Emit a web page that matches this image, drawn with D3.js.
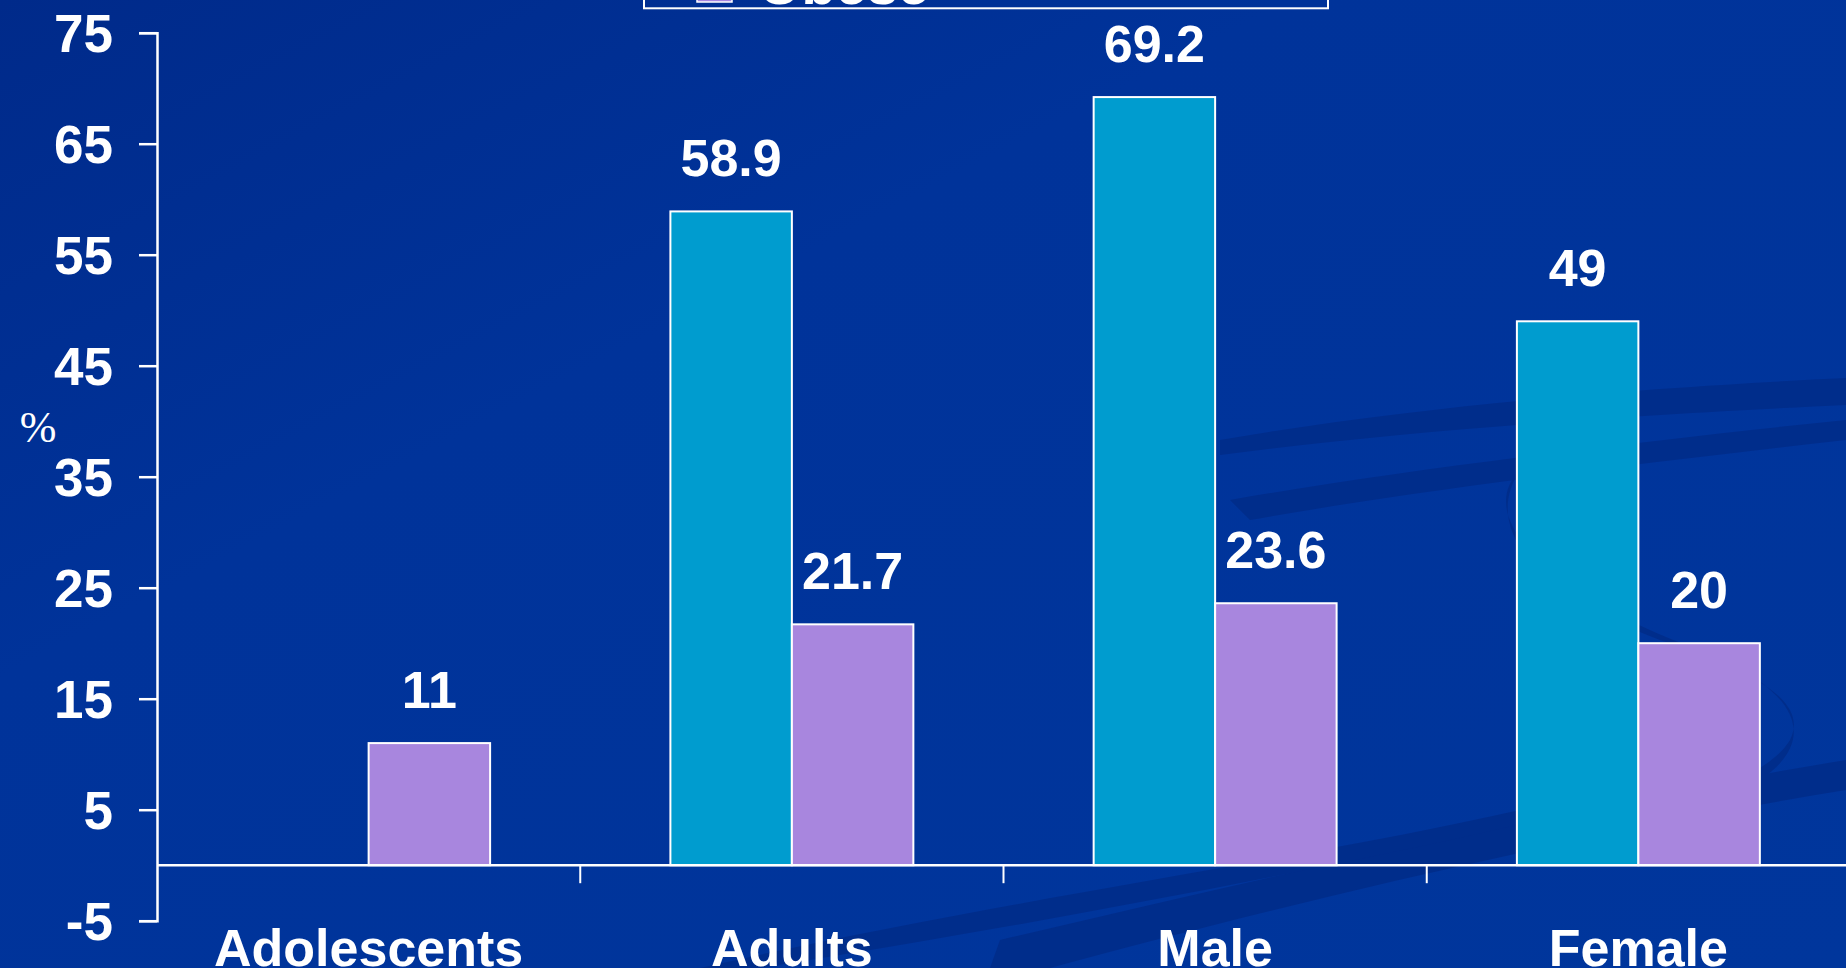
<!DOCTYPE html>
<html>
<head>
<meta charset="utf-8">
<script src="https://cdn.jsdelivr.net/npm/d3@7/dist/d3.min.js"></script>
<style>
  html, body { margin: 0; padding: 0; background: #003399; overflow: hidden; }
  svg { display: block; }
</style>
</head>
<body>
<svg id="chart" width="1846" height="968"></svg>
<script>
// ---- data ----
const categories = ["Adolescents", "Adults", "Male", "Female"];
const seriesNames = ["Overweight", "Obese"];
const overweight = [null, 58.9, 69.2, 49];
const obese = [11, 21.7, 23.6, 20];
const yTicks = [-5, 5, 15, 25, 35, 45, 55, 65, 75];
const legendLabels = ["Obese"];

const W = 1846, H = 968;
const svg = d3.select("#chart");
const font = "'Liberation Sans', Arial, sans-serif";

// ---- background ----
const defs = svg.append("defs");
const grad = defs.append("linearGradient").attr("id", "bg")
  .attr("x1", "0%").attr("y1", "0%").attr("x2", "100%").attr("y2", "100%");
grad.append("stop").attr("offset", "0%").attr("stop-color", "#002a8a");
grad.append("stop").attr("offset", "35%").attr("stop-color", "#00339a");
grad.append("stop").attr("offset", "100%").attr("stop-color", "#00369c");
svg.append("rect").attr("width", W).attr("height", H).attr("fill", "url(#bg)");

const deco = svg.append("g").attr("fill", "#002b86").attr("opacity", 0.75);
deco.append("path").attr("d", "M1220,440 C1450,400 1700,385 1846,378 L1846,405 C1700,412 1450,425 1220,455 Z");
deco.append("path").attr("d", "M1230,500 C1400,470 1650,440 1846,420 L1846,440 C1650,462 1420,490 1250,520 Z");
deco.append("path").attr("d", "M1520,470 C1470,520 1560,600 1700,650 C1800,690 1820,740 1760,780 C1700,810 1600,825 1500,840 C1640,810 1760,790 1790,740 C1810,700 1750,670 1660,640 C1540,595 1480,530 1520,470 Z");
deco.append("path").attr("d", "M1000,940 C1300,870 1600,800 1846,760 L1846,790 C1600,830 1300,900 1050,968 L990,968 Z");
deco.append("path").attr("d", "M700,968 C1000,900 1300,860 1520,810 L1530,822 C1300,875 1000,930 760,968 Z");

// ---- scales ----
const x0 = d3.scaleBand().domain(categories).range([157, 1850]).paddingInner(0).paddingOuter(0);
const x1 = d3.scaleBand().domain(seriesNames).range([0, x0.bandwidth()]).paddingInner(0).paddingOuter(0.742);
const y = d3.scaleLinear().domain([-5, 75]).range([920.7, 32.7]);
const color = d3.scaleOrdinal().domain(seriesNames).range(["#009ccf", "#a886de"]);

// ---- bars ----
const rows = categories.map((c, i) => ({ cat: c, vals: [
  { s: "Overweight", v: overweight[i] },
  { s: "Obese", v: obese[i] }
].filter(d => d.v !== null) }));

const groups = svg.append("g").selectAll("g").data(rows).join("g")
  .attr("transform", d => `translate(${x0(d.cat)},0)`);

groups.selectAll("rect").data(d => d.vals).join("rect")
  .attr("x", d => x1(d.s))
  .attr("y", d => y(d.v))
  .attr("width", x1.bandwidth())
  .attr("height", d => y(0) - y(d.v))
  .attr("fill", d => color(d.s))
  .attr("stroke", "#ffffff")
  .attr("stroke-width", 2);

groups.selectAll("text").data(d => d.vals).join("text")
  .attr("x", d => x1(d.s) + x1.bandwidth() / 2)
  .attr("y", d => y(d.v) - 35)
  .attr("text-anchor", "middle")
  .attr("fill", "#ffffff")
  .attr("font-family", font)
  .attr("font-weight", "bold")
  .attr("font-size", 52)
  .text(d => d.v);

// ---- y axis ----
const yAxis = svg.append("g").attr("transform", "translate(157,0)")
  .call(d3.axisLeft(y).tickValues(yTicks).tickFormat(d => String(d))
    .tickSizeInner(18).tickSizeOuter(18).tickPadding(26));
yAxis.selectAll("path, line").attr("stroke", "#ffffff").attr("stroke-width", 2.5);
yAxis.selectAll("text")
  .attr("fill", "#ffffff")
  .attr("font-family", font)
  .attr("font-weight", "bold")
  .attr("font-size", 53)
  .attr("dy", "0.36em");

// ---- x axis at zero ----
const xg = svg.append("g");
xg.append("line")
  .attr("x1", 157).attr("x2", W)
  .attr("y1", y(0)).attr("y2", y(0))
  .attr("stroke", "#ffffff").attr("stroke-width", 2.5);
xg.selectAll("line.tick").data(categories.slice(1)).join("line")
  .attr("class", "tick")
  .attr("x1", d => x0(d)).attr("x2", d => x0(d))
  .attr("y1", y(0)).attr("y2", y(0) + 18)
  .attr("stroke", "#ffffff").attr("stroke-width", 2);
xg.selectAll("text").data(categories).join("text")
  .attr("x", d => x0(d) + x0.bandwidth() / 2)
  .attr("y", 966)
  .attr("text-anchor", "middle")
  .attr("fill", "#ffffff")
  .attr("font-family", font)
  .attr("font-weight", "bold")
  .attr("font-size", 52)
  .text(d => d);

// ---- y label ----
svg.append("text")
  .attr("x", 38).attr("y", 442)
  .attr("text-anchor", "middle")
  .attr("fill", "#ffffff")
  .attr("font-family", "'Liberation Serif', 'Times New Roman', serif")
  .attr("font-size", 44)
  .text("%");

// ---- legend (cropped at top) ----
const lg = svg.append("g");
lg.append("rect")
  .attr("x", 644).attr("y", -120).attr("width", 684).attr("height", 128.3)
  .attr("fill", "none").attr("stroke", "#ffffff").attr("stroke-width", 2);
lg.selectAll("rect.key").data(legendLabels).join("rect")
  .attr("class", "key")
  .attr("x", 697).attr("y", -33).attr("width", 35).attr("height", 35)
  .attr("fill", color("Obese")).attr("stroke", "#ffffff").attr("stroke-width", 1.5);
lg.selectAll("text").data(legendLabels).join("text")
  .attr("x", 758).attr("y", 4)
  .attr("fill", "#ffffff")
  .attr("font-family", font)
  .attr("font-weight", "bold")
  .attr("font-size", 56)
  .text(d => d);
</script>
</body>
</html>
